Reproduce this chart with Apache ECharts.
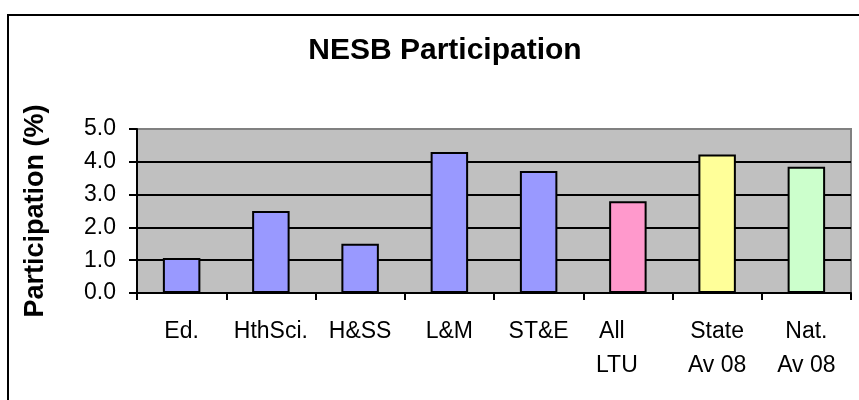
<!DOCTYPE html>
<html>
<head>
<meta charset="utf-8">
<script src="https://cdn.jsdelivr.net/npm/echarts@6/dist/echarts.min.js"></script>
<style>
  html, body { margin: 0; padding: 0; background: #fff; }
  #chart { width: 859px; height: 400px; }
</style>
</head>
<body>
<div id="chart"></div>
<script>
// categories and values
const categories = ["Ed.", "HthSci.", "H&SS", "L&M", "ST&E", "All\nLTU", "State\nAv 08", "Nat.\nAv 08"];
const participation = [1.07, 2.5, 1.5, 4.3, 3.72, 2.8, 4.22, 3.85];
const yTicks = [0, 1, 2, 3, 4, 5];

const barColors = ["#9999ff", "#9999ff", "#9999ff", "#9999ff", "#9999ff", "#ff99cc", "#ffff99", "#ccffcc"];
const font = "'Liberation Sans', Arial, sans-serif";

let myChart = echarts.init(document.getElementById("chart"));

const option = {
  animation: false,
  title: {
    text: "NESB Participation",
    left: 440,
    top: 31,
    textAlign: "center",
    textStyle: { fontFamily: font, fontSize: 30, fontWeight: "bold", color: "#000" },
  },
  graphic: [
    {
      type: "rect",
      shape: { x: 8, y: 15, width: 1000, height: 1000 },
      style: { fill: "none", stroke: "#000", lineWidth: 2 },
      silent: true,
    },
  ],
  grid: {
    left: 137,
    right: 8,
    top: 129,
    bottom: 107,
    show: true,
    backgroundColor: "#c0c0c0",
    borderColor: "#808080",
    borderWidth: 2,
  },
  xAxis: {
    type: "category",
    data: categories,
    axisLine: { lineStyle: { color: "#000", width: 2 } },
    axisTick: { show: true, length: 7, lineStyle: { color: "#000", width: 2 } },
    axisLabel: {
      margin: 22,
      lineHeight: 34,
      fontFamily: font,
      fontSize: 23,
      color: "#000",
      interval: 0,
      formatter: function (v) {
        // the "All LTU" label sits a little left of its slot in the original
        if (v === "All\nLTU") return "{a|All}\n{b|LTU}";
        return v;
      },
      rich: {
        a: { fontFamily: font, fontSize: 23, color: "#000", lineHeight: 34, padding: [0, 32, 0, 0] },
        b: { fontFamily: font, fontSize: 23, color: "#000", lineHeight: 34, padding: [0, 22, 0, 0] },
      },
    },
  },
  yAxis: {
    type: "value",
    min: yTicks[0],
    max: yTicks[yTicks.length - 1],
    interval: 1,
    name: "Participation (%)",
    nameLocation: "middle",
    nameRotate: 90,
    nameGap: 88,
    nameTextStyle: { fontFamily: font, fontSize: 27, fontWeight: "bold", color: "#000" },
    axisLine: { show: true, lineStyle: { color: "#000", width: 2 } },
    axisTick: { show: true, length: 8, lineStyle: { color: "#000", width: 2 } },
    axisLabel: {
      margin: 21,
      fontFamily: font,
      fontSize: 23,
      color: "#000",
      formatter: (v) => v.toFixed(1),
    },
    splitLine: { show: true, showMinLine: false, showMaxLine: false, lineStyle: { color: "#000", width: 2 } },
  },
  series: [
    {
      name: "NESB Participation",
      type: "bar",
      barCategoryGap: "58%",
      data: participation.map((v, i) => ({
        value: v,
        itemStyle: { color: barColors[i] },
      })),
      itemStyle: { borderColor: "#000", borderWidth: 2 },
    },
  ],
};

option && myChart.setOption(option);
</script>
</body>
</html>
